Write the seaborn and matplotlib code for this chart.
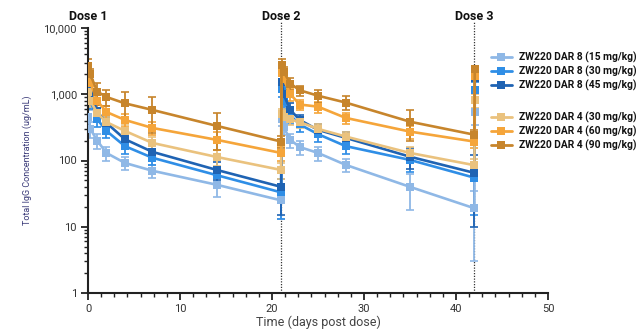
import numpy as np
import pandas as pd
import matplotlib
matplotlib.use("Agg")
import matplotlib.pyplot as plt
import matplotlib.ticker as mticker
import matplotlib.transforms as mtransforms
from matplotlib.lines import Line2D
import seaborn as sns

# ---------------- data ----------------
days = [0.04, 0.25, 1, 2, 4, 7, 14, 21,
        21.04, 21.25, 22, 23, 25, 28, 35, 42, 42.04]

series_names = ["ZW220 DAR 8 (15 mg/kg)", "ZW220 DAR 8 (30 mg/kg)", "ZW220 DAR 8 (45 mg/kg)",
                "ZW220 DAR 4 (30 mg/kg)", "ZW220 DAR 4 (60 mg/kg)", "ZW220 DAR 4 (90 mg/kg)"]

dar8_15 = [450, 300, 200, 130, 92, 70, 43, 25, 430, 320, 205, 160, 130, 86, 40, 19, 540]
dar8_30 = [1300, 800, 420, 280, 165, 110, 60, 33, 1200, 800, 480, 350, 250, 165, 102, 55, 1150]
dar8_45 = [1800, 1100, 550, 370, 210, 135, 72, 40, 1550, 1000, 580, 410, 290, 220, 114, 65, 1750]
dar4_30 = [1100, 800, 520, 380, 280, 184, 113, 72, 500, 450, 420, 380, 300, 230, 130, 85, 820]
dar4_60 = [2000, 1500, 800, 540, 410, 310, 205, 130, 2100, 1700, 1000, 700, 650, 440, 273, 193, 1900]
dar4_90 = [2700, 2000, 1100, 910, 730, 580, 333, 193, 2800, 2200, 1450, 1150, 950, 750, 385, 245, 2400]

sd8_15 = [120, 80, 50, 30, 20, 15, 15, 12, 100, 80, 50, 40, 30, 20, 22, 16, 200]
sd8_30 = [300, 200, 100, 60, 40, 25, 18, 20, 300, 200, 120, 80, 60, 40, 35, 40, 400]
sd8_45 = [400, 250, 150, 80, 50, 35, 22, 25, 400, 250, 150, 80, 60, 50, 40, 55, 900]
sd4_30 = [250, 150, 100, 80, 60, 45, 30, 20, 100, 80, 80, 70, 60, 40, 30, 20, 200]
sd4_60 = [400, 300, 200, 120, 90, 70, 60, 30, 500, 300, 200, 120, 120, 80, 60, 40, 300]
sd4_90 = [700, 400, 400, 250, 350, 320, 190, 40, 600, 400, 300, 200, 200, 180, 190, 40, 300]

colors = ["#8fb8e6", "#2f8ee6", "#1f63b3", "#eac27e", "#f5a53a", "#c7852c"]

y_ticks = [1, 10, 100, 1000, 10000]
y_ticklabels = ["1", "10", "100", "1,000", "10,000"]
x_ticks = [0, 10, 20, 30, 40, 50]
dose_labels = ["Dose 1", "Dose 2", "Dose 3"]
dose_days = [0, 21, 42]

values = [dar8_15, dar8_30, dar8_45, dar4_30, dar4_60, dar4_90]
errors = [sd8_15, sd8_30, sd8_45, sd4_30, sd4_60, sd4_90]

rows = []
for name, vals, errs in zip(series_names, values, errors):
    for t, v, e in zip(days, vals, errs):
        rows.append({"t": t, "v": v, "sd": e, "series": name})
df = pd.DataFrame(rows)

# ---------------- plot ----------------
sns.set_style("ticks")
plt.rcParams["font.family"] = ["Roboto", "DejaVu Sans"]

fig = plt.figure(figsize=(6.38, 3.29), dpi=100)
ax = fig.add_axes([88 / 638, 1 - 293 / 329, (548 - 88) / 638, (293 - 28) / 329])

draw_order = [5, 4, 3, 0, 1, 2]
for i in draw_order:
    name = series_names[i]
    sub = df[df["series"] == name]
    ax.errorbar(sub["t"], sub["v"], yerr=sub["sd"], fmt="none", ecolor=colors[i],
                elinewidth=1.3, capsize=2.8, capthick=1.2, zorder=2 + i * 0.1)
    sns.lineplot(data=sub, x="t", y="v", color=colors[i], marker="s", markersize=6,
                 markeredgewidth=0, linewidth=1.9, estimator=None, sort=False,
                 ax=ax, legend=False, zorder=3 + i * 0.1)

ax.set_yscale("log")
ax.set_ylim(1, 10000)
ax.set_xlim(0, 50)
ax.set_yticks(y_ticks)
ax.set_yticklabels(y_ticklabels)
ax.yaxis.set_minor_locator(mticker.LogLocator(base=10, subs=np.arange(2, 10)))
ax.yaxis.set_minor_formatter(mticker.NullFormatter())
ax.set_xticks(x_ticks)
ax.xaxis.set_minor_locator(mticker.MultipleLocator(10 / 7))

for s in ["top", "right"]:
    ax.spines[s].set_visible(False)
for s in ["left", "bottom"]:
    ax.spines[s].set_linewidth(1.5)
    ax.spines[s].set_color("#222222")
ax.tick_params(axis="both", which="major", length=5, width=1.3, color="#222222",
               labelsize=8, labelcolor="#333333", pad=3)
ax.tick_params(axis="both", which="minor", length=3, width=1.0, color="#222222")

ax.set_xlabel("Time (days post dose)", fontsize=9, color="#444444", labelpad=1)
ax.set_ylabel("Total IgG Concentration (ug/mL)", fontsize=6.5, color="#3a3a78", labelpad=8)

trans = mtransforms.blended_transform_factory(ax.transData, ax.transAxes)
for lab, d in zip(dose_labels, dose_days):
    ax.text(d, 1.045, lab, transform=trans, ha="center", va="center",
            fontsize=9, fontweight="bold", color="#111111")
    if d > 0:
        ax.plot([d, d], [0, 1.025], transform=trans, color="#333333", lw=0.9,
                ls=(0, (1, 1.2)), clip_on=False, zorder=1)


def make_legend(idx, top_px):
    hs = [Line2D([], [], color=colors[i], marker="s", markersize=6,
                 markeredgewidth=0, lw=2) for i in idx]
    ls = [series_names[i] for i in idx]
    leg = ax.legend(hs, ls, loc="upper left", bbox_to_anchor=(491 / 638, 1 - top_px / 329),
                    bbox_transform=fig.transFigure, frameon=False, fontsize=7.4,
                    handlelength=2.0, handletextpad=0.75, labelspacing=0.27,
                    borderaxespad=0, borderpad=0)
    for t in leg.get_texts():
        t.set_fontweight("bold")
        t.set_color("#111111")
    return leg


leg1 = make_legend([0, 1, 2], 52)
ax.add_artist(leg1)
leg2 = make_legend([3, 4, 5], 112)

fig.savefig("out.png", dpi=100)
